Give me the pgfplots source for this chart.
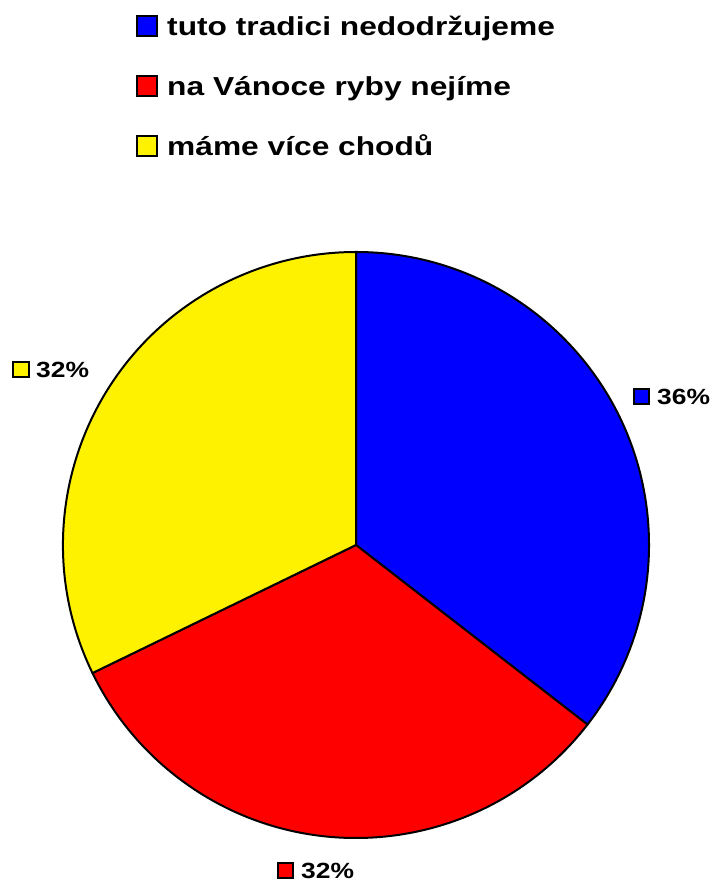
\documentclass[border=0pt]{standalone}
\usepackage{pgfplots}
\pgfplotsset{compat=1.18}
\usepackage{fontspec}
\setmainfont{Liberation Sans}
\usepackage{graphicx}
% slice shares (%)
\def\vA{35.5}\def\vB{32.3}\def\vC{32.2}
\pgfmathsetmacro\aA{90-3.6*\vA}
\pgfmathsetmacro\aB{\aA-3.6*\vB}
\pgfmathsetmacro\aC{\aB-3.6*\vC}

\begin{document}
\begin{tikzpicture}
\begin{axis}[scale only axis, width=714pt, height=882pt,
  xmin=0, xmax=714, ymin=0, ymax=882, hide axis, clip=false]
\addplot[draw=none, mark=none, forget plot] coordinates {(356,337)};
% keep the whole canvas
\path (axis cs:0,0) rectangle (axis cs:714,882);
% pie, centre (356,337), radius 293
\filldraw[fill=blue, draw=black, line width=2pt, line join=round]
  (axis cs:356,337) -- ++(90:293pt) arc[start angle=90, end angle=\aA, radius=293pt] -- cycle;
\filldraw[fill=red, draw=black, line width=2pt, line join=round]
  (axis cs:356,337) -- ++(\aA:293pt) arc[start angle=\aA, end angle=\aB, radius=293pt] -- cycle;
\filldraw[fill=yellow, draw=black, line width=2pt, line join=round]
  (axis cs:356,337) -- ++(\aB:293pt) arc[start angle=\aB, end angle=\aC, radius=293pt] -- cycle;
% legend
\filldraw[fill=blue, draw=black, line width=1.5pt] (axis cs:137,846) rectangle (axis cs:157,866);
\filldraw[fill=red, draw=black, line width=1.5pt] (axis cs:137,786) rectangle (axis cs:157,806);
\filldraw[fill=yellow, draw=black, line width=1.5pt] (axis cs:137,726) rectangle (axis cs:157,746);
\node[anchor=base west, inner sep=0, font=\bfseries\fontsize{26}{30}\selectfont]
  at (axis cs:167,846) {\scalebox{1.22}[1]{tuto tradici nedodržujeme}};
\node[anchor=base west, inner sep=0, font=\bfseries\fontsize{26}{30}\selectfont]
  at (axis cs:167,786) {\scalebox{1.22}[1]{na Vánoce ryby nejíme}};
\node[anchor=base west, inner sep=0, font=\bfseries\fontsize{26}{30}\selectfont]
  at (axis cs:167,726) {\scalebox{1.22}[1]{máme více chodů}};
% data labels
\filldraw[fill=blue, draw=black, line width=1.5pt] (axis cs:634,478) rectangle (axis cs:649,493);
\node[anchor=base west, inner sep=0, font=\bfseries\fontsize{22}{26}\selectfont]
  at (axis cs:657,477) {\scalebox{1.2}[1]{36\%}};
\filldraw[fill=red, draw=black, line width=1.5pt] (axis cs:278,4) rectangle (axis cs:293,19);
\node[anchor=base west, inner sep=0, font=\bfseries\fontsize{22}{26}\selectfont]
  at (axis cs:301,3) {\scalebox{1.2}[1]{32\%}};
\filldraw[fill=yellow, draw=black, line width=1.5pt] (axis cs:13,505) rectangle (axis cs:29,520);
\node[anchor=base west, inner sep=0, font=\bfseries\fontsize{22}{26}\selectfont]
  at (axis cs:36,504) {\scalebox{1.2}[1]{32\%}};
\end{axis}
\end{tikzpicture}
\end{document}
